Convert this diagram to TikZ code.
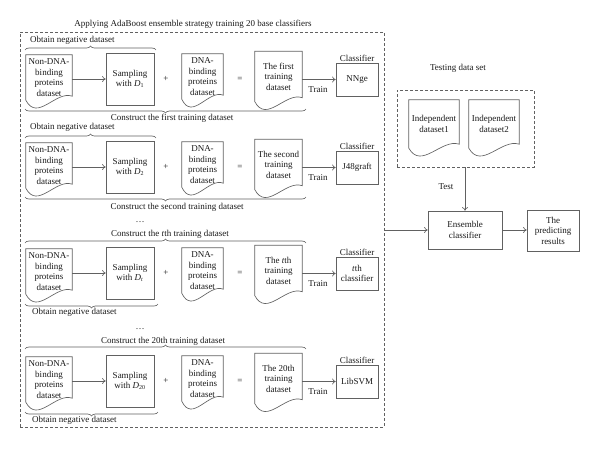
\documentclass[tikz,border=0pt]{standalone}
\usepackage{fontspec}
\setmainfont{Liberation Serif}
\usetikzlibrary{arrows.meta,decorations.pathreplacing,calc}

\tikzset{
  base/.style={font=\fontsize{9}{10.5}\selectfont, text=black!90},
  ln/.style={draw=black!62, line width=0.65pt},
  docnode/.style={base, align=center, inner sep=0pt},
  boxnode/.style={base, ln, align=center, inner sep=0pt},
  lbl/.style={base, inner sep=0pt},
  arr/.style={ln, -{To[length=3.5pt,width=6pt]}},
  braceup/.style={ln, decorate, decoration={brace, amplitude=4pt}},
  bracedown/.style={ln, decorate, decoration={brace, amplitude=4pt, mirror}},
  dashbox/.style={draw=black!62, line width=0.65pt, dash pattern=on 3pt off 2pt},
}

\newcommand\docshape[1]{%
  \draw[ln] let \p1=(#1.north west), \p2=(#1.south east) in
  (\x1,\y1) -- (\x1,\y2)
  .. controls (0.75*\x1+0.25*\x2,\y2-22pt) and (0.35*\x1+0.65*\x2,\y2+10pt) .. (\x2,\y2+4pt)
  -- (\x2,\y1) -- cycle;}

% #1 id, #2 centre y, #3 subscript, #4 training text, #5 classifier text
\newcommand\trainrow[5]{%
  \node[docnode, minimum width=46pt, minimum height=45pt] (neg#1) at (49,#2-1.5) {Non-DNA-\\binding\\proteins\\dataset};
  \docshape{neg#1}
  \node[boxnode, minimum width=48pt, minimum height=52pt] (smp#1) at (130,#2) {Sampling\\with \textit{D}\textsubscript{#3}};
  \draw[arr] (neg#1.east |- smp#1) -- (smp#1.west);
  \node[lbl] (plus#1) at (166,#2) {+};
  \node[docnode, minimum width=41pt, minimum height=45pt] (dna#1) at (202.5,#2-2.5) {DNA-\\binding\\proteins\\dataset};
  \docshape{dna#1}
  \node[lbl] (eq#1) at (240,#2) {=};
  \node[docnode, minimum width=47pt, minimum height=50pt] (trn#1) at (278.5,#2-2.5) {#4};
  \docshape{trn#1}
  \node[boxnode, minimum width=42pt, minimum height=33pt] (cls#1) at (357,#2+0.5) {#5};
  \node[lbl, anchor=south] (clslbl#1) at ([yshift=1pt]cls#1.north) {Classifier};
  \draw[arr] (trn#1.east |- cls#1) -- (cls#1.west);
  \node[lbl] (train#1) at (318,#2+11) {Train};
}

\begin{document}
\begin{tikzpicture}[x=1pt, y=-1pt]
\useasboundingbox (0,0) rectangle (600,448);

% outer training box
\node[dashbox, minimum width=364pt, minimum height=395pt, inner sep=0pt] (outer) at (202,229.5) {};
\node[lbl] (title) at (193,24) {Applying AdaBoost ensemble strategy training 20 base classifiers};

% rows
\trainrow{a}{79}{1}{The first\\training\\dataset}{NNge}
\trainrow{b}{167}{2}{The second\\training\\dataset}{J48graft}
\trainrow{c}{273}{\textit{t}}{The \textit{t}th\\training\\dataset}{\textit{t}th\\classifier}
\trainrow{d}{381}{20}{The 20th\\training\\dataset}{LibSVM}

% row 1 braces
\node[lbl, anchor=west] (obta) at (30,40) {Obtain negative dataset};
\coordinate (oba1) at (25,50); \coordinate (oba2) at (156,50);
\draw[braceup] (oba1) -- (oba2);
\coordinate (coa1) at (25,109); \coordinate (coa2) at (306,109);
\draw[bracedown] (coa1) -- (coa2);
\node[lbl] (cona) at (172,118) {Construct the first training dataset};

% row 2 braces
\node[lbl, anchor=west] (obtb) at (30,127) {Obtain negative dataset};
\coordinate (obb1) at (25,138); \coordinate (obb2) at (156,138);
\draw[braceup] (obb1) -- (obb2);
\coordinate (cob1) at (25,197); \coordinate (cob2) at (306,197);
\draw[bracedown] (cob1) -- (cob2);
\node[lbl] (conb) at (177,207) {Construct the second training dataset};

% row t braces
\node[lbl] (dotsc) at (140,222) {\dots};
\node[lbl] (conc) at (170,234) {Construct the \textit{t}th training dataset};
\coordinate (coc1) at (25,243); \coordinate (coc2) at (306,243);
\draw[braceup] (coc1) -- (coc2);
\coordinate (obc1) at (25,304); \coordinate (obc2) at (158,304);
\draw[bracedown] (obc1) -- (obc2);
\node[lbl, anchor=west] (obtc) at (32,312) {Obtain negative dataset};

% row 20 braces
\node[lbl] (dotsd) at (140,329) {\dots};
\node[lbl] (cond) at (163,341) {Construct the 20th training dataset};
\coordinate (cod1) at (25,349); \coordinate (cod2) at (306,349);
\draw[braceup] (cod1) -- (cod2);
\coordinate (obd1) at (25,412); \coordinate (obd2) at (158,412);
\draw[bracedown] (obd1) -- (obd2);
\node[lbl, anchor=west] (obtd) at (32,420) {Obtain negative dataset};

% testing side
\node[lbl] (testlbl) at (458,68) {Testing data set};
\node[dashbox, minimum width=137pt, minimum height=77pt, inner sep=0pt] (testbox) at (465.5,128.5) {};
\node[docnode, minimum width=50pt, minimum height=48pt] (ind1) at (434,124) {Independent\\dataset1};
\docshape{ind1}
\node[docnode, minimum width=50pt, minimum height=48pt] (ind2) at (494,124) {Independent\\dataset2};
\docshape{ind2}

\node[boxnode, minimum width=74pt, minimum height=38pt] (ens) at (465,230) {Ensemble\\classifier};
\node[boxnode, minimum width=52pt, minimum height=41pt] (pred) at (553,230.5) {The\\predicting\\results};

\draw[arr] (testbox.south -| ens) -- (ens.north);
\node[lbl] (testarr) at (446,187) {Test};
\draw[arr] (outer.east |- ens) -- (ens.west);
\draw[arr] (ens.east) -- (pred.west |- ens);
\end{tikzpicture}
\end{document}
